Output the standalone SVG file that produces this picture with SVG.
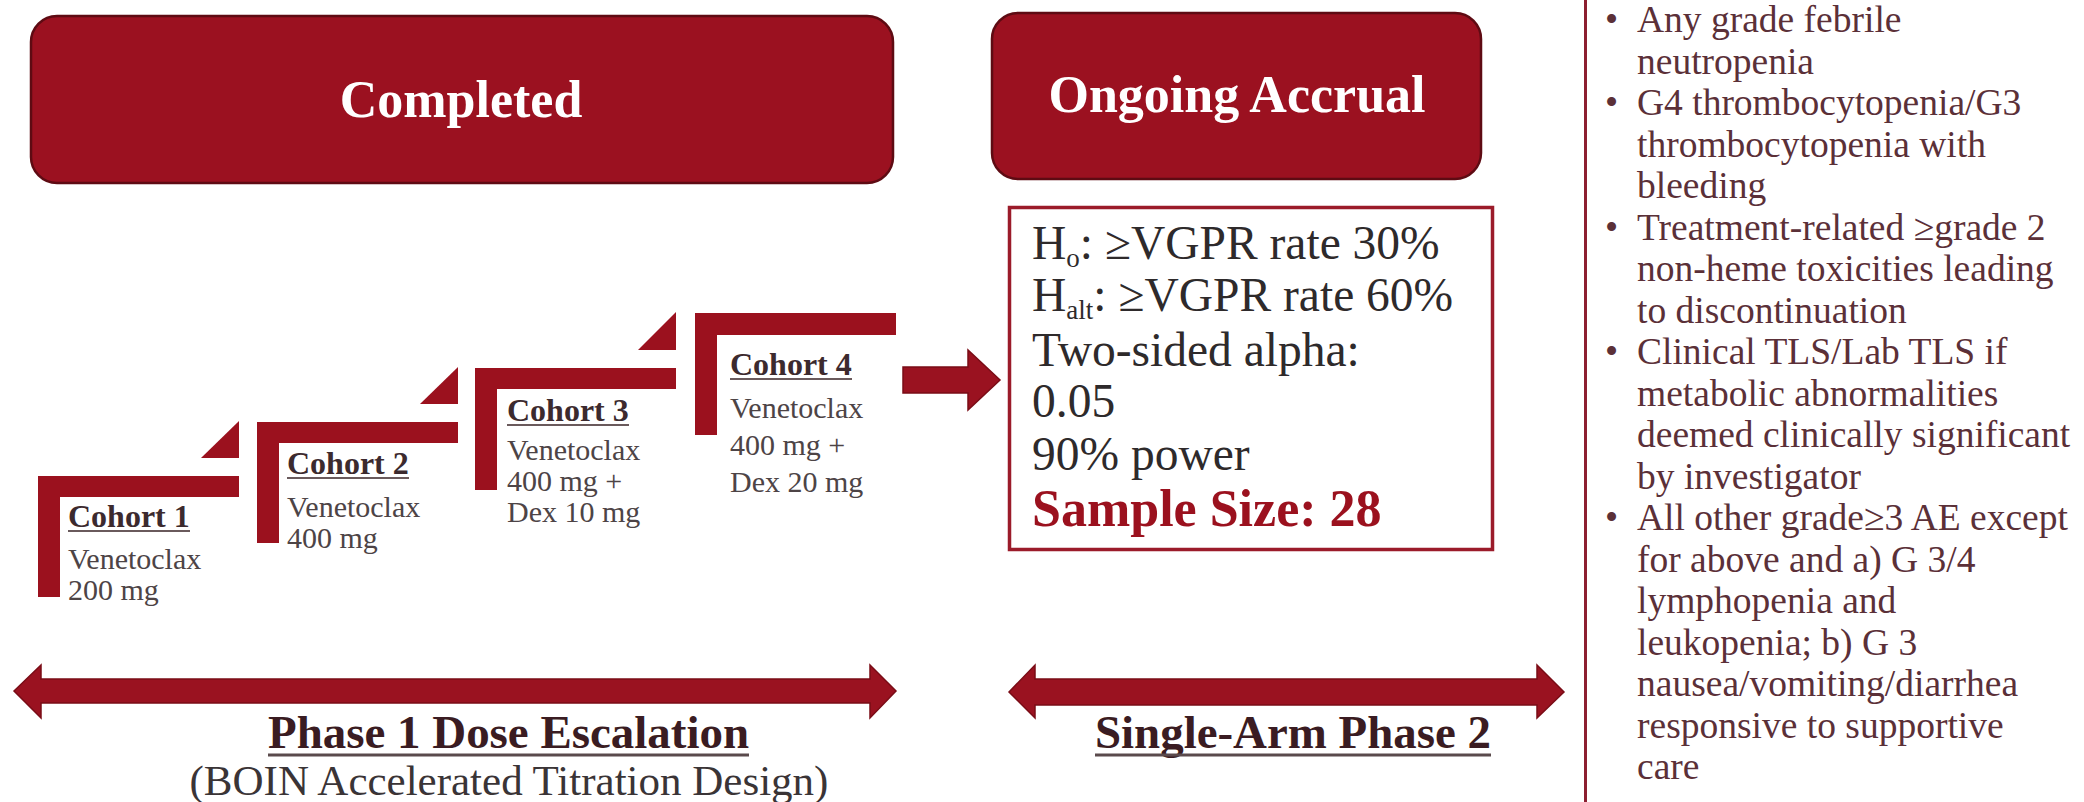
<svg xmlns="http://www.w3.org/2000/svg" width="2084" height="802" viewBox="0 0 2084 802">
<style>
.hdr{fill:#9b1120;stroke:#5e0b13;stroke-width:2.5}
.hdrtxt{font-family:"Liberation Serif","Times New Roman",serif;font-weight:bold;font-size:52px;fill:#ffffff;text-anchor:middle}
.bar{fill:#9b111e}
.clabel{font-family:"Liberation Serif","Times New Roman",serif;font-weight:bold;font-size:32px;fill:#3c2a2e}
.cbody{font-family:"Liberation Serif","Times New Roman",serif;font-size:30px;fill:#4d4446}
.uline{stroke:#6a5a5c;stroke-width:2}
.ptxt{font-family:"Liberation Serif","Times New Roman",serif;font-size:47.5px;fill:#2e2a2b}
.pbold{font-family:"Liberation Serif","Times New Roman",serif;font-size:52px;font-weight:bold;fill:#9b111e}
.rtxt{font-family:"Liberation Serif","Times New Roman",serif;font-size:37.5px;fill:#5b3038}
.arrow{fill:#9a1220;stroke:#7a0c16;stroke-width:1.5}
.phase{font-family:"Liberation Serif","Times New Roman",serif;font-weight:bold;font-size:46px;fill:#3a1c22}
.sub{font-family:"Liberation Serif","Times New Roman",serif;font-size:43px;fill:#3a3436}
.pline{stroke:#5a4a4c;stroke-width:3}
</style>

<g id="completed">
<rect class="hdr" x="31" y="16" width="862" height="167" rx="26" ry="26"/>
<text class="hdrtxt" x="461" y="117">Completed</text>
</g>

<g id="ongoing">
<rect class="hdr" x="992" y="13" width="489" height="166" rx="26" ry="26"/>
<text class="hdrtxt" x="1237" y="112">Ongoing Accrual</text>
</g>

<g id="cohort1">
<rect class="bar" x="38" y="476" width="201" height="21"/>
<rect class="bar" x="38" y="476" width="22" height="121"/>
<polygon class="bar" points="239,421 239,458 201,458"/>
<text class="clabel" x="68" y="527">Cohort 1</text>
<line class="uline" x1="68" y1="531" x2="190" y2="531"/>
<text class="cbody" x="68" y="569">Venetoclax</text>
<text class="cbody" x="68" y="600">200 mg</text>
</g>

<g id="cohort2">
<rect class="bar" x="257" y="422" width="201" height="21"/>
<rect class="bar" x="257" y="422" width="22" height="121"/>
<polygon class="bar" points="458,367 458,404 420,404"/>
<text class="clabel" x="287" y="474">Cohort 2</text>
<line class="uline" x1="287" y1="478" x2="409" y2="478"/>
<text class="cbody" x="287" y="517">Venetoclax</text>
<text class="cbody" x="287" y="548">400 mg</text>
</g>

<g id="cohort3">
<rect class="bar" x="475" y="368" width="201" height="21"/>
<rect class="bar" x="475" y="368" width="22" height="122"/>
<polygon class="bar" points="676,312 676,350 638,350"/>
<text class="clabel" x="507" y="421">Cohort 3</text>
<line class="uline" x1="507" y1="425" x2="629" y2="425"/>
<text class="cbody" x="507" y="460">Venetoclax</text>
<text class="cbody" x="507" y="491">400 mg +</text>
<text class="cbody" x="507" y="522">Dex 10 mg</text>
</g>

<g id="cohort4">
<rect class="bar" x="695" y="313" width="201" height="22"/>
<rect class="bar" x="695" y="313" width="22" height="122"/>
<text class="clabel" x="730" y="375">Cohort 4</text>
<line class="uline" x1="730" y1="379" x2="852" y2="379"/>
<text class="cbody" x="730" y="418">Venetoclax</text>
<text class="cbody" x="730" y="455">400 mg +</text>
<text class="cbody" x="730" y="492">Dex 20 mg</text>
</g>

<g id="phase2-params">
<rect x="1009.5" y="207.5" width="483" height="342" fill="#ffffff" stroke="#9b1b2a" stroke-width="3.5"/>
<text class="ptxt" x="1032" y="259">H<tspan font-size="27" dy="8">o</tspan><tspan dy="-8">: ≥VGPR rate 30%</tspan></text>
<text class="ptxt" x="1032" y="311">H<tspan font-size="27" dy="8">alt</tspan><tspan dy="-8">: ≥VGPR rate 60%</tspan></text>
<text class="ptxt" x="1032" y="366">Two-sided alpha:</text>
<text class="ptxt" x="1032" y="417">0.05</text>
<text class="ptxt" x="1032" y="470">90% power</text>
<text class="pbold" x="1032" y="526">Sample Size: 28</text>
</g>

<g id="dlt-panel">
<rect x="1584" y="0" width="3" height="802" fill="#8c1f30"/>
<g class="rtxt">
<text x="1605" y="32">•</text>
<text x="1637" y="32">Any grade febrile</text>
<text x="1637" y="73.5">neutropenia</text>
<text x="1605" y="115">•</text>
<text x="1637" y="115">G4 thrombocytopenia/G3</text>
<text x="1637" y="156.5">thrombocytopenia with</text>
<text x="1637" y="198">bleeding</text>
<text x="1605" y="239.5">•</text>
<text x="1637" y="239.5">Treatment-related ≥grade 2</text>
<text x="1637" y="281">non-heme toxicities leading</text>
<text x="1637" y="322.5">to discontinuation</text>
<text x="1605" y="364">•</text>
<text x="1637" y="364">Clinical TLS/Lab TLS if</text>
<text x="1637" y="405.5">metabolic abnormalities</text>
<text x="1637" y="447">deemed clinically significant</text>
<text x="1637" y="488.5">by investigator</text>
<text x="1605" y="530">•</text>
<text x="1637" y="530">All other grade≥3 AE except</text>
<text x="1637" y="571.5">for above and a) G 3/4</text>
<text x="1637" y="613">lymphopenia and</text>
<text x="1637" y="654.5">leukopenia; b) G 3</text>
<text x="1637" y="696">nausea/vomiting/diarrhea</text>
<text x="1637" y="737.5">responsive to supportive</text>
<text x="1637" y="779">care</text>
</g>
</g>

<g id="phase1-label">
<text class="phase" x="268" y="748" textLength="481" lengthAdjust="spacingAndGlyphs">Phase 1 Dose Escalation</text>
<line class="pline" x1="268" y1="755" x2="749" y2="755"/>
<text class="sub" x="509" y="795" text-anchor="middle">(BOIN Accelerated Titration Design)</text>
</g>

<g id="phase2-label">
<text class="phase" x="1095" y="748" textLength="396" lengthAdjust="spacingAndGlyphs">Single-Arm Phase 2</text>
<line class="pline" x1="1095" y1="755" x2="1491" y2="755"/>
</g>

<g id="connectors">
<polygon class="arrow" points="903,367 968,367 968,350 1000,380 968,410 968,393 903,393"/>
<polygon class="arrow" points="14,691 41,665 41,679 870,679 870,665 896,691 870,718 870,703 41,703 41,718"/>
<polygon class="arrow" points="1009,692 1035,665 1035,679 1537,679 1537,665 1564,692 1537,718 1537,705 1035,705 1035,718"/>
</g>
</svg>
